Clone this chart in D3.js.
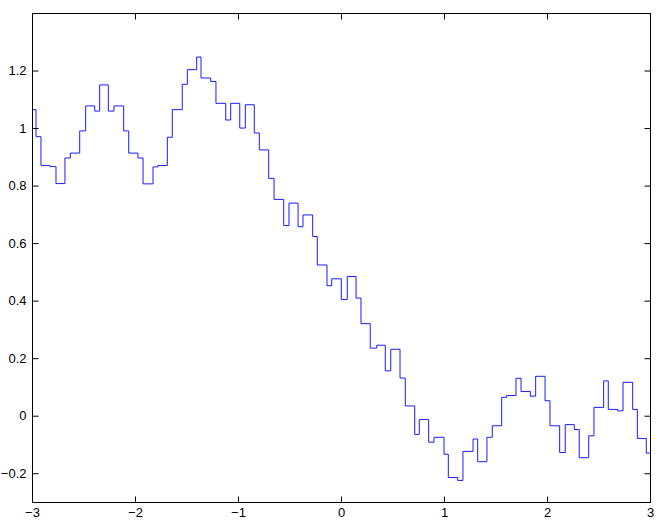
<!DOCTYPE html>
<html>
<head>
<meta charset="utf-8">
<script src="https://cdn.jsdelivr.net/npm/d3@7"></script>
<style>
  html, body { margin: 0; padding: 0; background: #fff; }
  svg { display: block; }
  text { font-family: "Liberation Sans", Arial, Helvetica, sans-serif; font-size: 13px; fill: #000; }
</style>
</head>
<body>
<script>
// Step breakpoints (x where each level begins) and level values
const stepX = [-3.000, -2.961, -2.913, -2.825, -2.767, -2.680, -2.628, -2.537, -2.479, -2.391,
  -2.343, -2.259, -2.204, -2.110, -2.061, -1.971, -1.922, -1.825, -1.777, -1.686,
  -1.638, -1.541, -1.492, -1.401, -1.359, -1.265, -1.214, -1.119, -1.071, -0.983,
  -0.929, -0.842, -0.793, -0.702, -0.650, -0.556, -0.505, -0.417, -0.369, -0.275,
  -0.230, -0.136, -0.090, 0.003, 0.061, 0.146, 0.194, 0.284, 0.347, 0.430,
  0.483, 0.573, 0.624, 0.716, 0.760, 0.851, 0.903, 1.000, 1.042, 1.133,
  1.184, 1.282, 1.327, 1.417, 1.469, 1.560, 1.609, 1.699, 1.748, 1.838,
  1.890, 1.981, 2.029, 2.123, 2.177, 2.265, 2.313, 2.405, 2.456, 2.550,
  2.595, 2.686, 2.738, 2.832, 2.877, 2.964];
const stepY = [1.064, 0.970, 0.870, 0.866, 0.807, 0.896, 0.913, 0.990, 1.077, 1.059,
  1.150, 1.059, 1.077, 0.990, 0.913, 0.896, 0.806, 0.865, 0.870, 0.968,
  1.064, 1.152, 1.203, 1.247, 1.174, 1.162, 1.086, 1.028, 1.086, 1.000,
  1.081, 0.983, 0.924, 0.825, 0.752, 0.661, 0.739, 0.657, 0.698, 0.623,
  0.524, 0.452, 0.476, 0.404, 0.484, 0.409, 0.320, 0.235, 0.245, 0.156,
  0.231, 0.131, 0.034, -0.065, -0.013, -0.092, -0.075, -0.134, -0.215, -0.225,
  -0.124, -0.081, -0.160, -0.075, -0.035, 0.064, 0.070, 0.130, 0.084, 0.068,
  0.137, 0.052, -0.035, -0.128, -0.031, -0.048, -0.146, -0.070, 0.029, 0.121,
  0.022, 0.017, 0.116, 0.022, -0.079, -0.130];
const xEnd = 3.0;
const xTicks = [-3, -2, -1, 0, 1, 2, 3];
const yTicks = [-0.2, 0, 0.2, 0.4, 0.6, 0.8, 1, 1.2];
const xDomain = [-3, 3];
const yDomain = [-0.3, 1.4];

const W = 661, H = 520;
const m = { left: 32, right: 11, top: 13, bottom: 18 };
const svg = d3.select("body").append("svg").attr("width", W).attr("height", H);

const x = d3.scaleLinear().domain(xDomain).range([m.left, W - m.right]);
const y = d3.scaleLinear().domain(yDomain).range([H - m.bottom, m.top]);

const fmt = v => {
  const s = (Math.round(v * 10) / 10).toString();
  return s.replace("-", "\u2212");
};

const pts = stepX.map((d, i) => [d, stepY[i]]);
pts.push([xEnd, stepY[stepY.length - 1]]);

svg.append("path")
  .datum(pts)
  .attr("fill", "none")
  .attr("stroke", "#0000ff")
  .attr("stroke-width", 0.9)
  .attr("d", d3.line().x(d => x(d[0])).y(d => y(d[1])).curve(d3.curveStepAfter));

const tl = 6;
const ax = svg.append("g").attr("stroke", "#000").attr("stroke-width", 1).attr("fill", "none");
// frame
ax.append("rect")
  .attr("x", x(xDomain[0]) + 0.5).attr("y", y(yDomain[1]) + 0.5)
  .attr("width", x(xDomain[1]) - x(xDomain[0])).attr("height", y(yDomain[0]) - y(yDomain[1]));

// bottom axis (ticks inward) + top ticks
const xb = svg.append("g").attr("transform", `translate(0,${y(yDomain[0]) + 0.5})`)
  .call(d3.axisBottom(x).tickValues(xTicks).tickSize(-tl).tickPadding(5.2).tickFormat(fmt));
xb.select(".domain").remove();
const xt = svg.append("g").attr("transform", `translate(0,${y(yDomain[1]) + 0.5})`)
  .call(d3.axisTop(x).tickValues(xTicks).tickSize(-tl).tickFormat(""));
xt.select(".domain").remove();
// left axis + right ticks
const yl = svg.append("g").attr("transform", `translate(${x(xDomain[0]) + 0.5},0)`)
  .call(d3.axisLeft(y).tickValues(yTicks).tickSize(-tl).tickPadding(6).tickFormat(fmt));
yl.select(".domain").remove();
const yr = svg.append("g").attr("transform", `translate(${x(xDomain[1]) + 0.5},0)`)
  .call(d3.axisRight(y).tickValues(yTicks).tickSize(-tl).tickFormat(""));
yr.select(".domain").remove();

svg.selectAll(".tick line").attr("stroke", "#000");
svg.selectAll(".tick text").attr("font-size", 13).attr("font-family", "Liberation Sans, Arial, sans-serif").attr("fill", "#000");
</script>
</body>
</html>
